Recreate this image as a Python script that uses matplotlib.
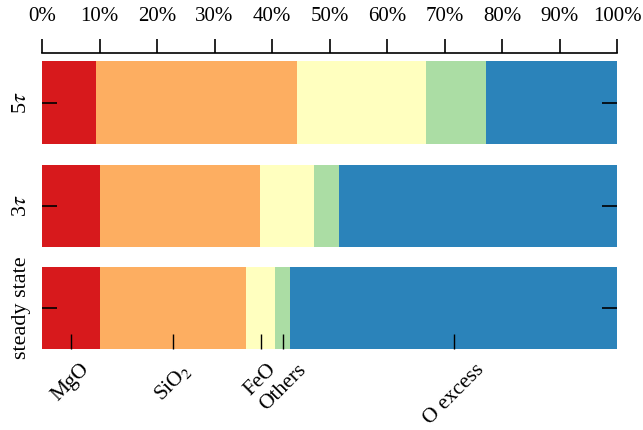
import numpy as np
import matplotlib
matplotlib.use("Agg")
import matplotlib.pyplot as plt
from matplotlib.ticker import FixedLocator

plt.rcParams["font.family"] = ["Liberation Serif", "DejaVu Serif"]
plt.rcParams["mathtext.fontset"] = "stix"

# mass fractions (%) of each component, one row per case
cases = ["5$\\tau$", "3$\\tau$", "steady state"]
components = ["MgO", "SiO$_2$", "FeO", "Others", "O excess"]
mgo = [9.4, 10.1, 10.1]
sio2 = [34.9, 27.8, 25.4]
feo = [22.5, 9.4, 5.1]
others = [10.4, 4.4, 2.6]
o_excess = [22.8, 48.3, 56.8]
colors = ["#d7191c", "#fdae61", "#ffffbf", "#abdda4", "#2b83ba"]
xticks = [0, 10, 20, 30, 40, 50, 60, 70, 80, 90, 100]


def main():
    fig = plt.figure(figsize=(6.43, 4.30), dpi=100)
    left, width = 42 / 643, 575 / 643
    rows = [(61, 144), (165, 247), (267, 349)]
    fractions = np.array([mgo, sio2, feo, others, o_excess])

    axes = []
    for i, (top, bot) in enumerate(rows):
        ax = fig.add_axes([left, 1 - bot / 430, width, (bot - top) / 430])
        vals = fractions[:, i]
        starts = np.concatenate([[0], np.cumsum(vals)[:-1]])
        for v, s, c in zip(vals, starts, colors):
            ax.barh(0, v, left=s, height=1.0, color=c, linewidth=0)
        ax.set_xlim(0, 100)
        ax.set_ylim(-0.5, 0.5)
        for sp in ax.spines.values():
            sp.set_visible(False)
        ax.set_yticks([0])
        ax.set_yticklabels([cases[i]], rotation=90, va="center", fontsize=16)
        ax.tick_params(axis="y", direction="in", length=11, width=1.2,
                       left=True, right=True, pad=8)
        ax.set_xticks([])
        axes.append(ax)

    # percentage scale along the top
    top_ax = axes[0]
    top_ax.spines["top"].set_visible(True)
    top_ax.spines["top"].set_position(("outward", 6))
    top_ax.spines["top"].set_linewidth(1.2)
    top_ax.xaxis.set_ticks_position("top")
    top_ax.set_xticks(xticks)
    top_ax.set_xticklabels(["%d%%" % t for t in xticks], fontsize=15)
    top_ax.tick_params(axis="x", direction="out", length=10, width=1.2, pad=9)

    # component names at the middle of each steady state segment
    bot_ax = axes[2]
    ss = fractions[:, 2]
    mids = np.cumsum(ss) - ss / 2
    bot_ax.xaxis.set_major_locator(FixedLocator(mids))
    bot_ax.set_xticklabels(components, rotation=45, ha="center", fontsize=15.5)
    bot_ax.tick_params(axis="x", direction="in", length=11, width=1.0,
                       bottom=True, pad=8)

    fig.savefig("out.png", dpi=100)


if __name__ == "__main__":
    main()
